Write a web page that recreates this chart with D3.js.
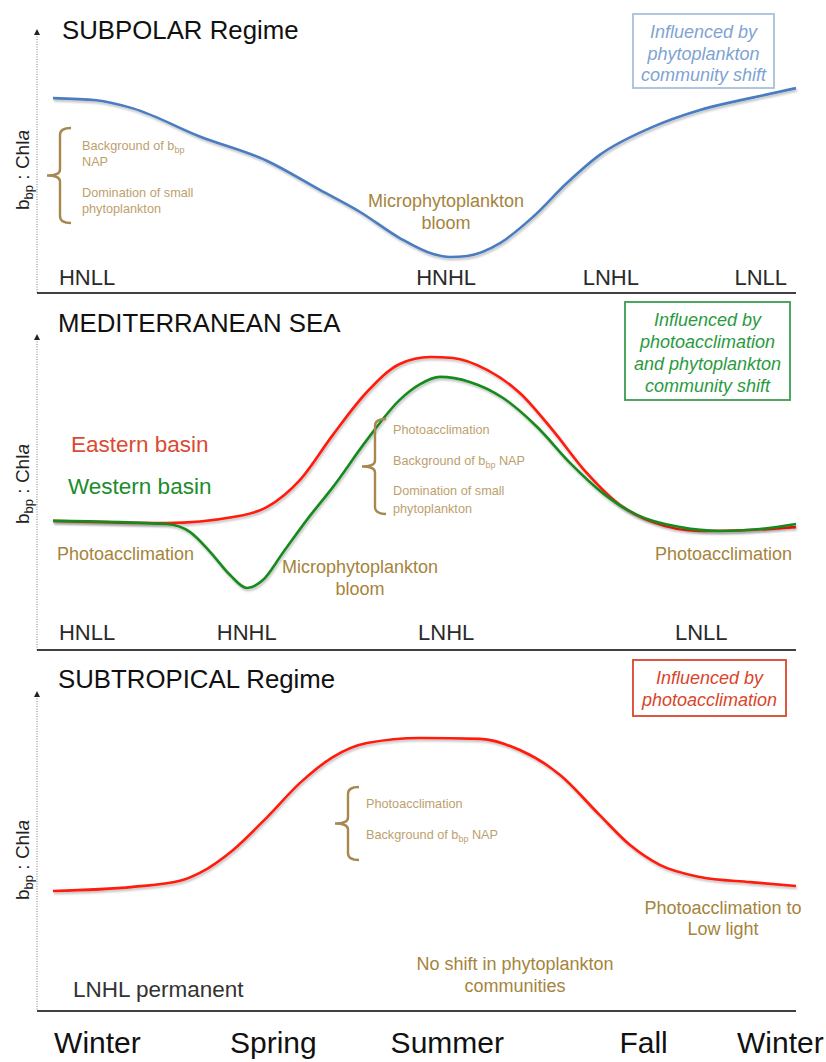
<!DOCTYPE html>
<html>
<head>
<meta charset="utf-8">
<script src="https://d3js.org/d3.v7.min.js"></script>
<style>
  body { margin: 0; background: #fff; }
  svg { font-family: "Liberation Sans", Arial, sans-serif; }
  .title { font-size: 25.8px; fill: #111; }
  .regime { font-size: 22px; fill: #2a2a2a; }
  .note { font-size: 18px; fill: #a5843c; }
  .small { font-size: 12.7px; fill: #bd9f6e; }
  .ylab { font-size: 19px; fill: #222; }
  .season .tick text { font-size: 30px; fill: #111; }
  .box text { font-size: 18px; font-style: italic; }
</style>
</head>
<body>
<script>
// seasonal cycle, x in months from the start of winter (0..12)
const seasonNames = ["Winter", "Spring", "Summer", "Fall", "Winter"];
const seasonPos   = [0.71, 3.55, 6.36, 9.53, 11.74];

// y values are arbitrary units 0..10 (bbp:Chla, no real scale)
const subpolarMonth = [0, 0.7, 1.29, 2.37, 3.46, 4.31, 4.96, 5.60, 6.14, 6.41, 6.69, 7.22, 7.75, 8.30, 8.83, 9.64, 10.45, 11.26, 12];
const subpolarValue = [7.41, 7.33, 7.02, 5.95, 5.02, 3.92, 3.08, 2.09, 1.48, 1.37, 1.41, 1.90, 2.89, 4.18, 5.25, 6.27, 6.96, 7.41, 7.79];

const easternMonth = [0, 1.84, 2.91, 3.46, 3.99, 4.52, 5.07, 5.60, 6.09, 6.46, 7.01, 7.54, 8.07, 8.62, 9.16, 9.69, 10.45, 11.26, 12];
const easternValue = [4.10, 4.03, 4.22, 4.54, 5.40, 6.83, 8.19, 9.08, 9.30, 9.27, 8.89, 8.16, 6.98, 5.62, 4.60, 4.06, 3.78, 3.81, 3.90];

const westernMonth = [0, 1.84, 2.21, 2.54, 2.86, 3.13, 3.39, 3.71, 4.10, 4.52, 5.07, 5.60, 5.93, 6.25, 6.73, 7.27, 7.82, 8.35, 8.88, 9.43, 10.13, 10.77, 11.42, 12];
const westernValue = [4.10, 4.00, 3.75, 3.11, 2.38, 1.97, 2.22, 3.08, 4.13, 5.17, 6.67, 7.94, 8.44, 8.67, 8.51, 8.00, 7.08, 5.94, 4.98, 4.29, 3.90, 3.78, 3.84, 4.00];

const subtropMonth = [0, 1.29, 2.05, 2.37, 2.91, 3.46, 3.99, 4.52, 5.07, 5.93, 6.90, 7.54, 8.19, 8.83, 9.32, 9.80, 10.45, 11.26, 12];
const subtropValue = [3.76, 3.89, 4.08, 4.33, 5.05, 6.08, 7.15, 7.96, 8.40, 8.56, 8.53, 8.18, 7.40, 6.14, 5.20, 4.58, 4.20, 4.04, 3.92];

// trophic regime labels along each panel
const subpolarRegimes = ["HNLL", "HNHL", "LNHL", "LNLL"];
const subpolarRegPos  = [0.55, 6.35, 9.01, 11.43];
const medRegimes = ["HNLL", "HNHL", "LNHL", "LNLL"];
const medRegPos  = [0.55, 3.13, 6.35, 10.47];

const width = 826, height = 1062;

const svg = d3.select("body").append("svg")
    .attr("width", width)
    .attr("height", height);

const defs = svg.append("defs");
defs.append("filter").attr("id", "shadow")
    .attr("x", "-5%").attr("y", "-20%").attr("width", "110%").attr("height", "140%")
  .append("feDropShadow")
    .attr("dx", 1).attr("dy", 2).attr("stdDeviation", 1.2)
    .attr("flood-color", "#000").attr("flood-opacity", 0.25);

const xScale = d3.scaleLinear().domain([0, 12]).range([53, 796]);

const line = y => d3.line()
    .x(d => xScale(d[0]))
    .y(d => y(d[1]))
    .curve(d3.curveMonotoneX);

const zip = (a, b) => a.map((m, i) => [m, b[i]]);

// one panel frame: dotted y axis with arrow, solid baseline, y label
function panel(top, bottom, labelY) {
  const y = d3.scaleLinear().domain([0, 10]).range([bottom, top]);
  svg.append("line")
      .attr("x1", 37).attr("x2", 37)
      .attr("y1", top + 4).attr("y2", bottom)
      .attr("stroke", "#555").attr("stroke-width", 0.8)
      .attr("stroke-dasharray", "1,1.5");
  svg.append("path")
      .attr("d", `M34,${top + 5} L37,${top - 1} L40,${top + 5} Z`)
      .attr("fill", "#222");
  svg.append("line")
      .attr("x1", 37).attr("x2", 796)
      .attr("y1", bottom).attr("y2", bottom)
      .attr("stroke", "#000").attr("stroke-width", 1.5);

  const t = svg.append("text")
      .attr("class", "ylab")
      .attr("text-anchor", "middle")
      .attr("transform", `translate(29,${labelY}) rotate(-90)`);
  t.append("tspan").text("b");
  t.append("tspan").style("font-size", "13px").attr("dy", 4).text("bp");
  t.append("tspan").attr("dy", -4).text(" : Chl");
  t.append("tspan").attr("font-style", "italic").text("a");
  return y;
}

function curve(y, month, value, color) {
  svg.append("path")
      .datum(zip(month, value))
      .attr("d", line(y))
      .attr("fill", "none")
      .attr("stroke", color)
      .attr("stroke-width", 2.6)
      .attr("filter", "url(#shadow)");
}

function brace(x, y0, y1) {
  const m = (y0 + y1) / 2;
  svg.append("path")
      .attr("d", `M${x + 11},${y0} Q${x},${y0} ${x},${y0 + 7} L${x},${m - 6} Q${x},${m} ${x - 13},${m}` +
                 ` Q${x},${m} ${x},${m + 6} L${x},${y1 - 7} Q${x},${y1} ${x + 11},${y1}`)
      .attr("fill", "none")
      .attr("stroke", "#a8884f")
      .attr("stroke-width", 2.4);
}

function text(x, y, str, cls, anchor) {
  return svg.append("text")
      .attr("class", cls)
      .attr("x", x).attr("y", y)
      .attr("text-anchor", anchor || "start")
      .text(str);
}

// "Background of b_bp NAP" style text with subscript
function bbpText(x, y, after) {
  const t = svg.append("text").attr("class", "small").attr("x", x).attr("y", y);
  t.append("tspan").text("Background of b");
  t.append("tspan").style("font-size", "9px").attr("dy", 3).text("bp");
  t.append("tspan").attr("dy", -3).text(after);
}

function box(x, y, w, h, lines, color, stroke, lineH) {
  const g = svg.append("g").attr("class", "box");
  g.append("rect")
      .attr("x", x).attr("y", y).attr("width", w).attr("height", h)
      .attr("fill", "#fff").attr("stroke", stroke).attr("stroke-width", 1.8);
  g.selectAll("text").data(lines).join("text")
      .attr("x", x + w / 2)
      .attr("y", (d, i) => y + 24 + i * lineH)
      .attr("text-anchor", "middle")
      .attr("fill", color)
      .text(d => d);
}

function regimes(names, pos, yy) {
  svg.selectAll(null).data(names).join("text")
      .attr("class", "regime")
      .attr("x", (d, i) => xScale(pos[i]))
      .attr("y", yy)
      .attr("text-anchor", "middle")
      .text(d => d);
}

// ---------- SUBPOLAR ----------
const y1 = panel(30, 293, 170);
text(62, 39, "SUBPOLAR Regime", "title");
curve(y1, subpolarMonth, subpolarValue, "#4a7cc0");
brace(60, 128, 223);
bbpText(82, 150, "");
text(82, 166, "NAP", "small");
text(82, 197, "Domination of small", "small");
text(82, 213, "phytoplankton", "small");
text(446, 207, "Microphytoplankton", "note", "middle");
text(446, 229, "bloom", "note", "middle");
regimes(subpolarRegimes, subpolarRegPos, 285);
box(633, 14, 141, 74, ["Influenced by", "phytoplankton", "community shift"], "#7ea3d3", "#a9bfdc", 21.5);

// ---------- MEDITERRANEAN ----------
const y2 = panel(335, 650, 484);
text(58, 332, "MEDITERRANEAN SEA", "title");
curve(y2, easternMonth, easternValue, "#ff1a0a");
curve(y2, westernMonth, westernValue, "#178a1e");
text(71, 452, "Eastern basin", "note").style("font-size", "22.5px").style("fill", "#db4a32");
text(68, 494, "Western basin", "note").style("font-size", "22.5px").style("fill", "#1c8c2c");
text(57, 560, "Photoacclimation", "note");
text(360, 573, "Microphytoplankton", "note", "middle");
text(360, 595, "bloom", "note", "middle");
text(792, 560, "Photoacclimation", "note", "end");
brace(375, 419, 514);
text(393, 434, "Photoacclimation", "small");
bbpText(393, 465, " NAP");
text(393, 495, "Domination of small", "small");
text(393, 513, "phytoplankton", "small");
regimes(medRegimes, medRegPos, 640);
box(625, 302, 165, 98, ["Influenced by", "photoacclimation", "and  phytoplankton", "community shift"], "#2a9a3e", "#3a9d50", 22);

// ---------- SUBTROPICAL ----------
const y3 = panel(692, 1011, 860);
text(58, 688, "SUBTROPICAL Regime", "title");
curve(y3, subtropMonth, subtropValue, "#ff1a0a");
brace(348, 787, 860);
text(366, 808, "Photoacclimation", "small");
bbpText(366, 839, " NAP");
text(723, 914, "Photoacclimation to", "note", "middle");
text(723, 935, "Low light", "note", "middle");
text(515, 970, "No shift in phytoplankton", "note", "middle");
text(515, 992, "communities", "note", "middle");
text(73, 997, "LNHL permanent", "regime").style("font-size", "22.5px").style("fill", "#333");
box(633, 660, 153, 56, ["Influenced by", "photoacclimation"], "#d9442a", "#d9452a", 22);

// season axis along the bottom
const seasonAxis = d3.axisBottom(xScale)
    .tickValues(seasonPos)
    .tickSize(0)
    .tickFormat((d, i) => seasonNames[i]);

svg.append("g")
    .attr("class", "season")
    .attr("transform", "translate(0,1029)")
    .call(seasonAxis)
    .call(g => g.select(".domain").remove());
</script>
</body>
</html>
